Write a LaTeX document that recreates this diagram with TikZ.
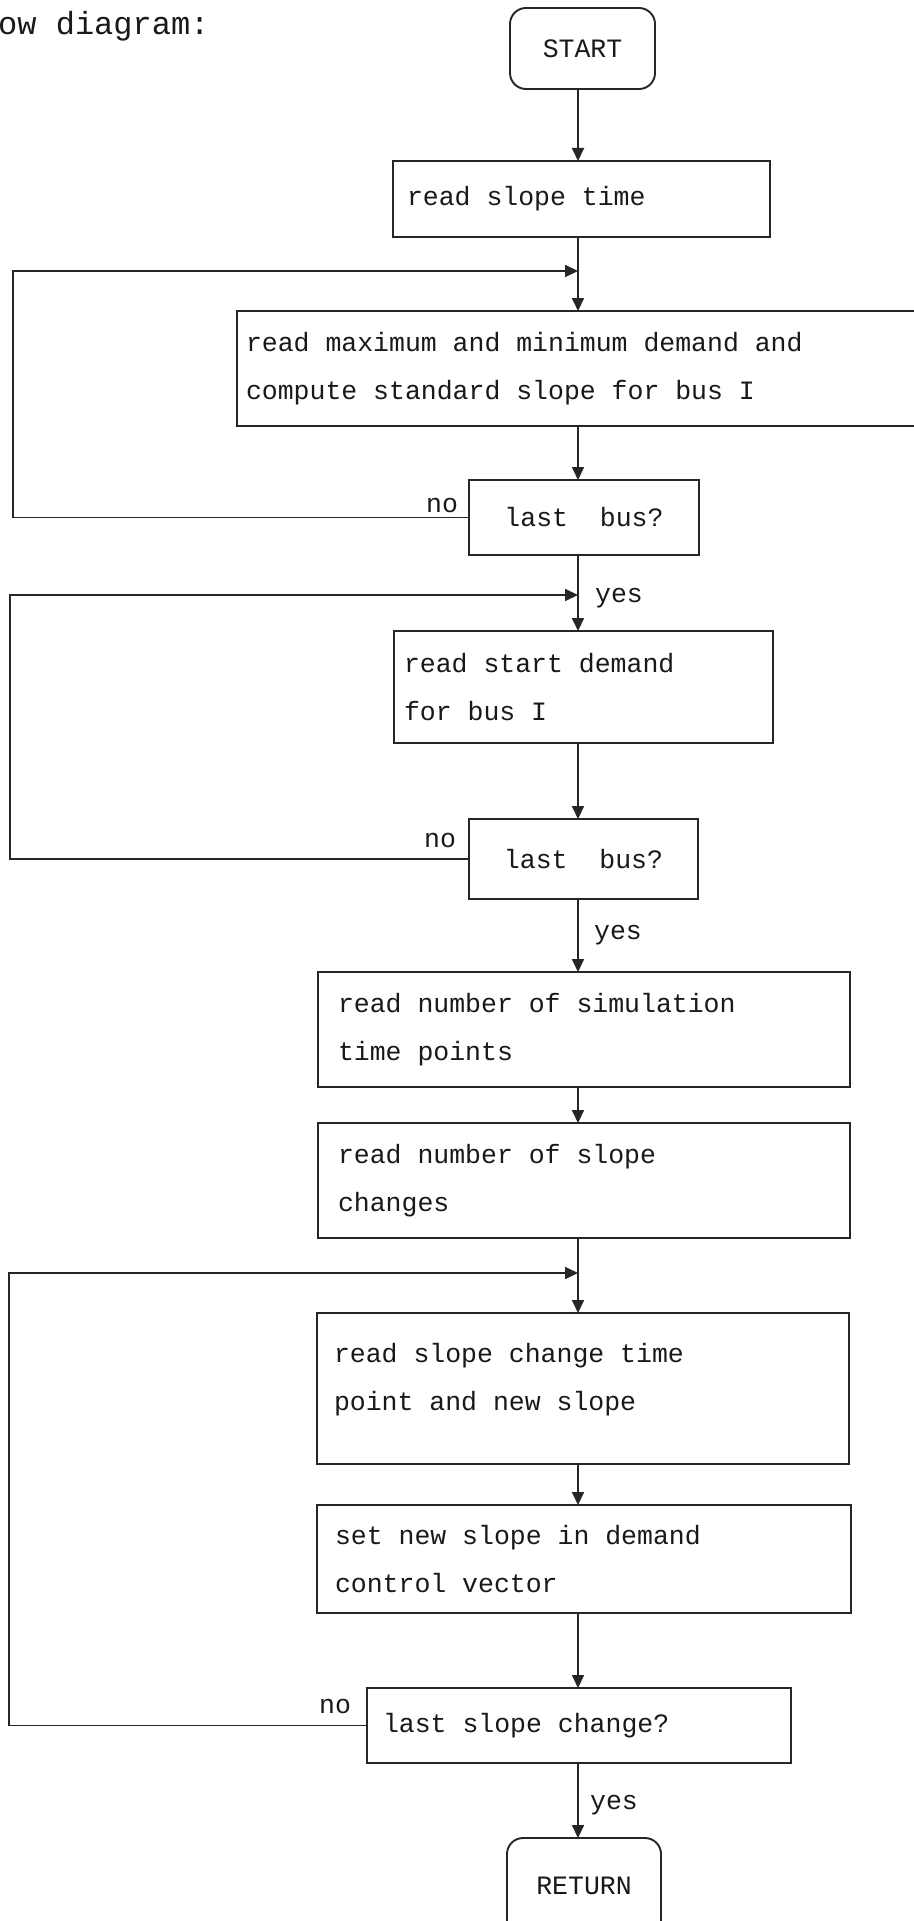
\documentclass[tikz,border=0pt]{standalone}
\usepackage{fontspec}
\newfontfamily\tw[WordSpace={1,0,0}]{Liberation Mono}
\newcommand\twsize[2]{\tw\fontsize{#1}{#2}\selectfont}
\usetikzlibrary{arrows.meta}
\tikzset{
  ink/.style={draw=black!85, line width=1.9pt},
  flow/.style={ink, -{Triangle[length=13pt,width=12pt]}},
  term/.style={ink, rounded corners=16pt, font=\twsize{26.5}{30}, inner sep=0pt, outer sep=0pt, text=black!90},
  pbox/.style={ink, rectangle, align=flush left, inner ysep=0pt, outer sep=0pt, font=\twsize{26.5}{47.5}, text=black!90},
  qbox/.style={ink, rectangle, align=center, inner sep=0pt, outer sep=0pt, font=\twsize{26.5}{30}, text=black!90},
  lbl/.style={font=\twsize{26.5}{30}, inner sep=0pt, text=black!90}
}
\begin{document}
\begin{tikzpicture}[x=1pt,y=-1pt]
\useasboundingbox (0,0) rectangle (913,1921);
\fill[white] (0,0) rectangle (913,1921);

\node[lbl, anchor=base west, font=\twsize{32}{36}] (title) at (-2,35) {ow diagram:};

\coordinate (ax) at (578,0);

\node[term, minimum width=145pt, minimum height=81pt] (start) at (582.5,48.5) {START};

\node[pbox, text width=349pt, inner xsep=14pt, minimum height=76pt] (rst) at (581.5,199) {read slope time};

\coordinate (j1) at (578,271);
\coordinate (c1) at (13,271);

\node[pbox, text width=665pt, inner xsep=9pt, minimum height=115pt] (mm) at (578.5,368.5) {read maximum and minimum demand and\\compute standard slope for bus I};

\node[qbox, minimum width=230pt, minimum height=75pt] (lb1) at (584,517.5) {last\ \ bus?};
\node[lbl] (no1) at (442,505) {no};

\coordinate (j2) at (578,595);
\coordinate (c2) at (10,595);
\node[lbl] (yes1) at (619,598) {yes};

\node[pbox, text width=359pt, inner xsep=10pt, minimum height=112pt] (rsd) at (583.5,687) {read start demand\\for bus I};

\node[qbox, minimum width=229pt, minimum height=80pt] (lb2) at (583.5,859) {last\ \ bus?};
\node[lbl] (no2) at (440,840) {no};
\node[lbl] (yes2) at (618,935) {yes};

\node[pbox, text width=492pt, inner xsep=20pt, minimum height=115pt] (sim) at (584,1029.5) {read number of simulation\\time points};

\node[pbox, text width=492pt, inner xsep=20pt, minimum height=115pt] (nsl) at (584,1180.5) {read number of slope\\changes};

\coordinate (j3) at (578,1273);
\coordinate (c3) at (9,1273);

\node[pbox, text width=498pt, inner xsep=17pt, minimum height=151pt] (sct) at (583,1388.5) {read slope change time\\point and new slope\\[-24pt]\mbox{}};

\node[pbox, text width=498pt, inner xsep=18pt, minimum height=108pt] (snd) at (584,1559) {set new slope in demand\\control vector};

\node[pbox, text width=392pt, inner xsep=16pt, minimum height=75pt] (lsc) at (579,1725.5) {last slope change?};
\node[lbl] (no3) at (335,1706) {no};
\node[lbl] (yes3) at (614,1805) {yes};

\node[term, minimum width=154pt, minimum height=104pt] (ret) at (584,1890) {\raisebox{8pt}{RETURN}};

% main flow
\draw[flow] (start.south -| ax) -- (rst.north -| ax);
\draw[flow] (rst.south -| ax) -- (mm.north -| ax);
\draw[flow] (mm.south -| ax) -- (lb1.north -| ax);
\draw[flow] (lb1.south -| ax) -- (rsd.north -| ax);
\draw[flow] (rsd.south -| ax) -- (lb2.north -| ax);
\draw[flow] (lb2.south -| ax) -- (sim.north -| ax);
\draw[flow] (sim.south -| ax) -- (nsl.north -| ax);
\draw[flow] (nsl.south -| ax) -- (sct.north -| ax);
\draw[flow] (sct.south -| ax) -- (snd.north -| ax);
\draw[flow] (snd.south -| ax) -- (lsc.north -| ax);
\draw[flow] (lsc.south -| ax) -- (ret.north -| ax);

% loops
\draw[flow] (lb1.west) -| (c1) -- (j1);
\draw[flow] (lb2.west) -| (c2) -- (j2);
\draw[flow] (lsc.west) -| (c3) -- (j3);
\end{tikzpicture}
\end{document}
